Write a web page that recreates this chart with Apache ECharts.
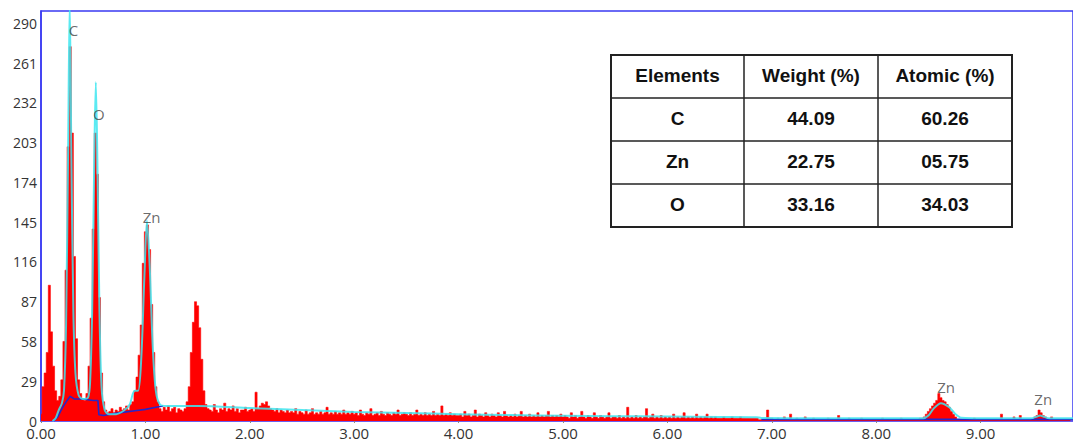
<!DOCTYPE html>
<html>
<head>
<meta charset="utf-8">
<script src="https://cdn.jsdelivr.net/npm/echarts@6/dist/echarts.min.js"></script>
<style>
html,body{margin:0;padding:0;background:#fff;}
#chart{width:1073px;height:443px;}
</style>
</head>
<body>
<div id="chart"></div>
<script>
// ---- DATA ----
const energyStep = 0.02; // keV per channel
// counts per channel, one array per keV
const counts0 = [5,25,35,50,99,65,40,22,15,18, 30,58,110,200,273,210,120,60,30,20, 16,15,20,40,75,140,210,180,90,35, 14,8,6,7,9,6,8,7,10,8, 9,11,8,12,14,22,32,48,70,115];
const counts1 = [138,143,125,85,50,25,14,9,7,10, 8,11,7,9,10,6,9,8,7,9, 14,25,50,72,87,84,68,45,22,12, 9,8,7,12,8,6,9,8,13,7, 9,8,11,7,9,6,8,8,10,7];
const counts2 = [8,9,7,21,9,11,13,12,14,11, 9,8,7,9,6,8,7,6,8,6, 7,6,9,5,7, 6,5,8,5,6, 9,5,6,5,7, 5,6,10,5,6, 5,7,5,6,5, 8,5,6,5,7];
const counts3 = [5,6,4,8,5,4,6,5,9,4, 5,6,4,7,5,4,6,5,4,6, 5,8,4,5,6, 5,4,6,4,5, 8,4,5,4,6, 4,5,4,7,4, 5,4,11,4,5, 4,6,4,5,4];
const counts4 = [4,5,3,7,4,5,3,4,8,3, 5,4,3,6,4,3,5,4,3,6, 4,3,7,4,3, 4,3,5,3,4, 7,3,4,3,5, 3,4,3,6,3, 4,3,4,7,3, 4,3,4,3,5];
const counts5 = [3,4,3,2,6,3,4,2,3,7, 3,2,4,3,2,6,3,2,4,3, 2,3,6,2,3, 3,2,4,2,3, 2,10,2,3,2, 4,2,3,2,3, 9,2,3,5,2, 3,2,4,2,3];
const counts6 = [2,3,2,5,2,3,2,3,6,2, 3,2,3,2,5,2,3,2,3,5, 2,3,2,3,2, 2,2,3,2,2, 2,3,2,2,2, 3,2,2,2,2, 2,2,2,2,1, 1,1,1,8,2];
const counts7 = [2,1,1,2,1,1,3,1,1,5, 1,1,2,1,1,1,3,1,1,1, 2,1,1,1,1, 1,1,2,1,1, 1,1,4,1,1, 1,1,2,1,1, 1,1,1,2,1, 1,1,1,1,1];
const counts8 = [1,1,1,2,1,1,1,1,1,1, 1,1,2,1,1,1,1,1,1,1, 1,2,2,3,5, 7,9,11,13,15, 20,17,15,14,12, 10,7,5,3,1, 1,1,1,1,1, 1,1,2,1,1];
const counts9 = [1,1,1,1,1,1,1,1,1,1, 5,1,1,1,1,1,3,1,1,4, 1,1,1,1,1, 1,3,4,8,6, 4,3,1,1,3, 1,1,1,1,1, 1,1,1,1];

// fitted spectrum (cyan)
const fitEnergy = [0.11,0.14,0.17,0.20,0.22,0.24,0.26,0.275,0.29,0.31,0.33,0.36,0.40,0.45,0.47,0.49,0.51,0.525,0.54,0.56,0.58,0.61,0.65,0.72,0.80,0.85,0.88,0.90,0.93,0.96,0.99,1.015,1.04,1.07,1.10,1.14,1.20,1.50,2.00,2.50,3.00,3.50,4.00,4.50,5.00,5.50,6.00,6.50,6.85,6.90,7.50,8.00,8.45,8.50,8.55,8.62,8.70,8.76,8.82,9.00,9.48,9.53,9.57,9.61,9.66,9.885];
const fitCounts = [0,2,8,13,22,70,200,305,200,80,35,19,16,17,28,80,190,247,190,80,25,8,5,5,8,12,20,22,22,45,105,146,115,55,22,12,11,11,9.5,8,6.5,5.8,5,4.3,3.8,3.5,3.3,3,2.8,2.2,2,2,2,4,9,13,10,5,2.3,2,2,3,4,3,2,2];

// background (dark blue); '-' marks a gap where it lies under the fit
const bgEnergy = [0.12,0.16,0.20,0.25,0.28,0.32,0.40,0.50,0.545,0.555,0.60,0.70,0.80,0.90,1.00,1.10,1.17,1.20,6.88,6.90,9.885];
const bgCounts = [0,3,9,15,18,16,16,15,15,4.5,4,5.5,6.5,7.5,8.5,10,11,'-','-',1.2,1.2];

// peak labels
const peakNames = ['C','O','Zn','Zn','Zn'];
const peakEnergy = [0.31,0.555,1.06,8.67,9.60];
const peakCounts = [285,224,149,25,16];

// axis ticks
const xMax = 9.885;
const yMax = 299;
const yStep = 29;

// composition table
const tableHeader = ['Elements','Weight (%)','Atomic (%)'];
const tableElements = ['C','Zn','O'];
const tableWeight = ['44.09','22.75','33.16'];
const tableAtomic = ['60.26','05.75','34.03'];

// ---- BUILD ----
const allCounts = [].concat(counts0,counts1,counts2,counts3,counts4,counts5,counts6,counts7,counts8,counts9);
const spectrum = allCounts.map((c,i)=>[+(i*energyStep).toFixed(2), c]);
const fitData = fitEnergy.map((e,i)=>[e, fitCounts[i]]);
const bgData = bgEnergy.map((e,i)=>[e, bgCounts[i]]);
const labelData = peakNames.map((n,i)=>({name:n, value:[peakEnergy[i], peakCounts[i]]}));

// table graphics
const tX = 611, tY = 55, colW = [133,134,134], rowH = 43;
const tableRows = [tableHeader].concat(tableElements.map((e,i)=>[e, tableWeight[i], tableAtomic[i]]));
const tableGraphics = [];
const totalW = colW[0]+colW[1]+colW[2];
const totalH = rowH*tableRows.length;
tableGraphics.push({type:'rect', shape:{x:tX, y:tY, width:totalW, height:totalH}, style:{fill:'#fff', stroke:'#222', lineWidth:2}, z:100});
let cx = tX;
for (let c=0;c<2;c++){ cx += colW[c]; tableGraphics.push({type:'line', shape:{x1:cx,y1:tY,x2:cx,y2:tY+totalH}, style:{stroke:'#222', lineWidth:1.5}, z:101}); }
for (let r=1;r<tableRows.length;r++){ const yy=tY+r*rowH; tableGraphics.push({type:'line', shape:{x1:tX,y1:yy,x2:tX+totalW,y2:yy}, style:{stroke:'#222', lineWidth:1.5}, z:101}); }
tableRows.forEach((row,r)=>{
  let x0 = tX;
  row.forEach((txt,c)=>{
    tableGraphics.push({type:'text', x:x0+colW[c]/2, y:tY+r*rowH+rowH/2-1, z:102,
      style:{text:txt, fill:'#111', font:'bold 19px "Liberation Sans", Arial, sans-serif', textAlign:'center', textVerticalAlign:'middle'}});
    x0 += colW[c];
  });
});

const chart = echarts.init(document.getElementById('chart'), null, {renderer:'svg'});
chart.setOption({
  animation:false,
  backgroundColor:'#fff',
  grid:{left:41, right:0, top:11, bottom:22, show:true, borderColor:'#3a3af2', borderWidth:1.5, backgroundColor:'transparent'},
  xAxis:{type:'value', min:0, max:xMax, interval:1,
    axisLine:{show:true, lineStyle:{color:'#6b5cf0', width:1.5}},
    axisTick:{show:true, length:2, lineStyle:{color:'#888'}},
    splitLine:{show:false},
    axisLabel:{showMaxLabel:false, margin:4, color:'#333', fontSize:15, fontFamily:'"Open Sans", sans-serif', formatter:v=>v.toFixed(2)}},
  yAxis:{type:'value', min:0, max:yMax, interval:yStep,
    axisLine:{show:true, lineStyle:{color:'#3a3af2', width:1.5}},
    axisTick:{show:false},
    splitLine:{show:false},
    axisLabel:{showMaxLabel:false, margin:4, color:'#333', fontSize:14, fontFamily:'"Open Sans", sans-serif'}},
  series:[
    {type:'line', data:spectrum, step:'middle', symbol:'none', clip:true,
      lineStyle:{color:'#ff0000', width:0.6}, areaStyle:{color:'#ff0000', opacity:1}, z:2},
    {type:'line', data:bgData, symbol:'none', clip:true, connectNulls:false, lineStyle:{color:'#2626c8', width:1.6}, z:3},
    {type:'line', data:fitData, symbol:'none', smooth:0.3, clip:true, lineStyle:{color:'#3ee6f0', width:2, opacity:0.85}, z:4},
    {type:'scatter', data:labelData, symbolSize:0, z:5,
      label:{show:true, position:'inside', formatter:p=>p.name, color:'#444', fontSize:15, fontFamily:'"Open Sans", sans-serif'}}
  ],
  graphic:tableGraphics
});
</script>
</body>
</html>
